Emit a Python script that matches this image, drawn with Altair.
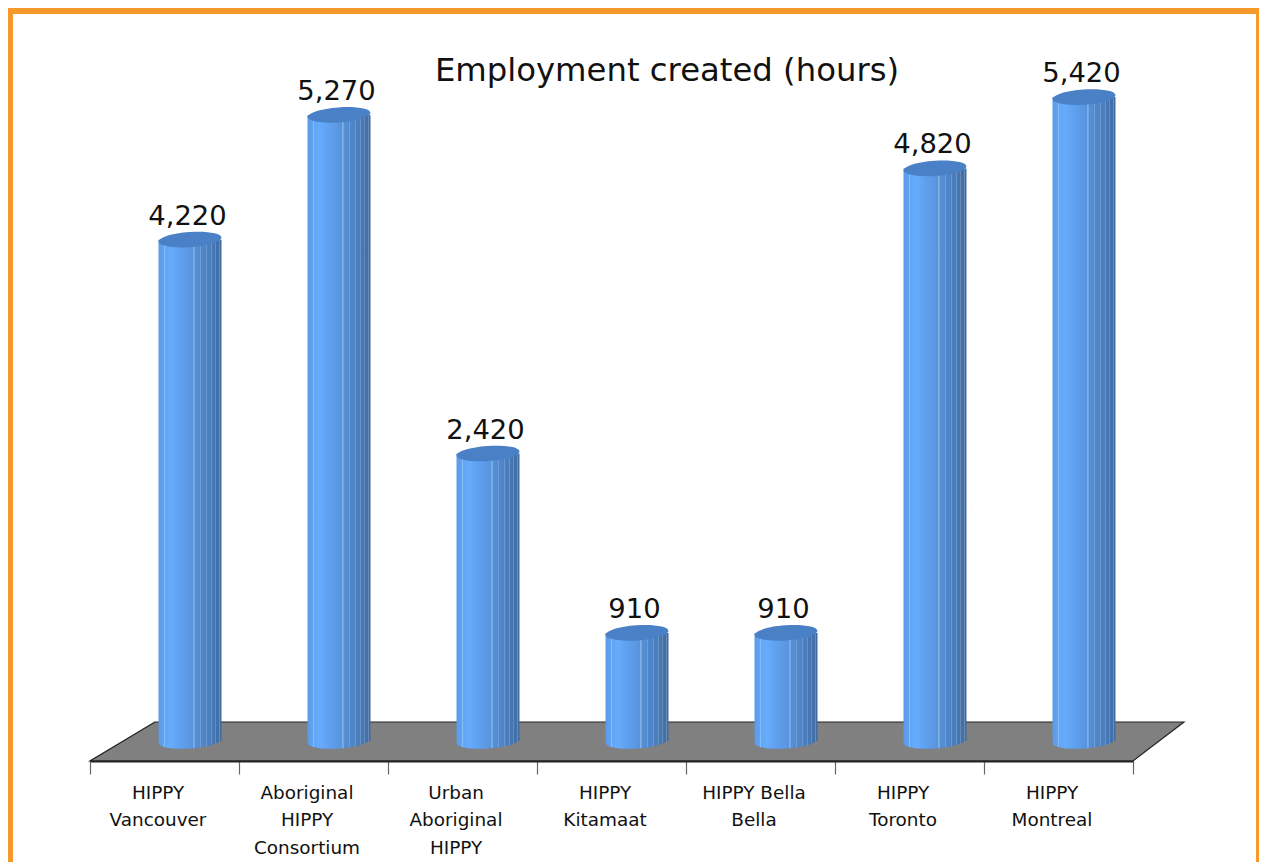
import altair as alt
import pandas as pd

categories = ["HIPPY|Vancouver", "Aboriginal|HIPPY|Consortium", "Urban|Aboriginal|HIPPY",
              "HIPPY|Kitamaat", "HIPPY Bella|Bella", "HIPPY|Toronto", "HIPPY|Montreal"]
hours = [4220, 5270, 2420, 910, 910, 4820, 5420]
floor_pos = [0.436, 0.0]
floor_end = [7.342, 7.0]
floor_level = [160, -168]

W, H = 1251, 854
Y_DOMAIN = [-1018.5, 6170]
ORANGE = "#f7992a"

df = pd.DataFrame({"cat": categories, "hours": hours, "base": [0] * len(hours)})
floor = pd.DataFrame({"a": floor_pos, "b": floor_end, "v": floor_level})

stops = [(0, "#5b9ae6"), (0.08, "#60a2f2"), (0.085, "#86bcfa"), (0.1, "#86bcfa"), (0.105, "#62a6f6"),
         (0.2, "#66abfd"), (0.35, "#5fa0ee"), (0.5, "#5a97e2"),
         (0.55, "#5793dc"), (0.555, "#82aee0"), (0.57, "#82aee0"), (0.575, "#5590d8"),
         (0.66, "#528bd0"), (0.665, "#6f9fd4"), (0.675, "#6f9fd4"), (0.68, "#5087cc"),
         (0.75, "#4e84c6"), (0.755, "#6c98cc"), (0.765, "#6c98cc"), (0.77, "#4b7fc0"),
         (0.83, "#4a7dbc"), (0.835, "#6a94c4"), (0.845, "#6a94c4"), (0.85, "#4778b6"),
         (0.9, "#4575b0"), (0.905, "#668cba"), (0.915, "#668cba"), (0.92, "#4371ab"),
         (0.96, "#426fa8"), (0.965, "#6a8db5"), (0.975, "#6a8db5"), (0.98, "#406ca4"), (1, "#3f6ba2")]
body = alt.Gradient(gradient="linear", x1=0, x2=1, y1=0, y2=0,
                    stops=[alt.GradientStop(offset=o, color=c) for o, c in stops])

ELLIPSE = "M-0.9976,0.0698 A1,0.24 -4 1 1 0.9976,-0.0698 A1,0.24 -4 1 1 -0.9976,0.0698 Z"
BW = 63
DX = 25.5

y_scale = alt.Scale(domain=Y_DOMAIN, range=[H, 0], nice=False, zero=False)
x_enc = alt.X("cat:N", sort=None, scale=alt.Scale(range=[82, 1125], paddingInner=0, paddingOuter=0),
              title=None,
              axis=alt.Axis(offset=-101, labelExpr="split(datum.label, '|')", labelAngle=0,
                            labelFont="DejaVu Sans", labelFontSize=18.4, labelColor="#111",
                            labelLineHeight=27.5, labelPadding=9, labelBaseline="top", labelAlign="center",
                            labelOffset=-7, labelOverlap=False, labelBound=False, labelFlush=False,
                            tickBand="extent", tickSize=13, tickColor="#666", tickWidth=1.2,
                            domainColor="#222", domainWidth=2.2, grid=False))
y_enc = alt.Y("hours:Q", scale=y_scale, axis=None)
base = alt.Chart(df)

floor_layer = alt.Chart(floor).mark_area(orient="horizontal", color="#808080", stroke="#222",
                                         strokeWidth=1.2, interpolate="linear").encode(
    x=alt.X("a:Q", scale=alt.Scale(domain=[0, 7], range=[82, 1125], nice=False, zero=False), axis=None),
    x2="b:Q",
    y=alt.Y("v:Q", scale=y_scale, axis=None),
)

bars = base.mark_bar(size=BW, fill=body, xOffset=DX).encode(x=x_enc, y=y_enc, y2="base:Q")
bottoms = base.mark_point(shape=ELLIPSE, size=BW ** 2, filled=True, fill=body, opacity=1,
                          strokeWidth=0, xOffset=DX).encode(x=x_enc, y=alt.Y("base:Q", scale=y_scale, axis=None))
tops = base.mark_point(shape=ELLIPSE, size=BW ** 2, filled=True, fill="#4a80c6", opacity=1,
                       strokeWidth=0, xOffset=DX).encode(x=x_enc, y=y_enc)
labels = base.mark_text(font="DejaVu Sans", fontSize=27.4, color="#111", baseline="middle",
                        dx=23, dy=-23).encode(x=x_enc, y=y_enc, text=alt.Text("hours:Q", format=","))

blank = alt.Data(values=[{}])
def band(x, x2, y, y2):
    return alt.Chart(blank).mark_rect(color=ORANGE).encode(
        x=alt.value(x), x2=alt.value(x2), y=alt.value(y), y2=alt.value(y2))

cats = alt.layer(bars, bottoms, tops, labels)
chart = alt.layer(
    floor_layer, cats,
    band(0, 5, 0, H), band(0, W, 0, 6), band(W - 3, W, 0, H),
).resolve_scale(x="independent").properties(
    width=W, height=H, padding=0, autosize=alt.AutoSizeParams(type="none"),
    title=alt.TitleParams("Employment created (hours)", font="DejaVu Sans", fontSize=32.3, fontWeight="normal",
                          color="#111", anchor="middle", baseline="middle", dx=33.5, dy=99),
).configure_view(stroke=None)

chart.save("out.html", embed_options={"renderer": "svg", "actions": False})
